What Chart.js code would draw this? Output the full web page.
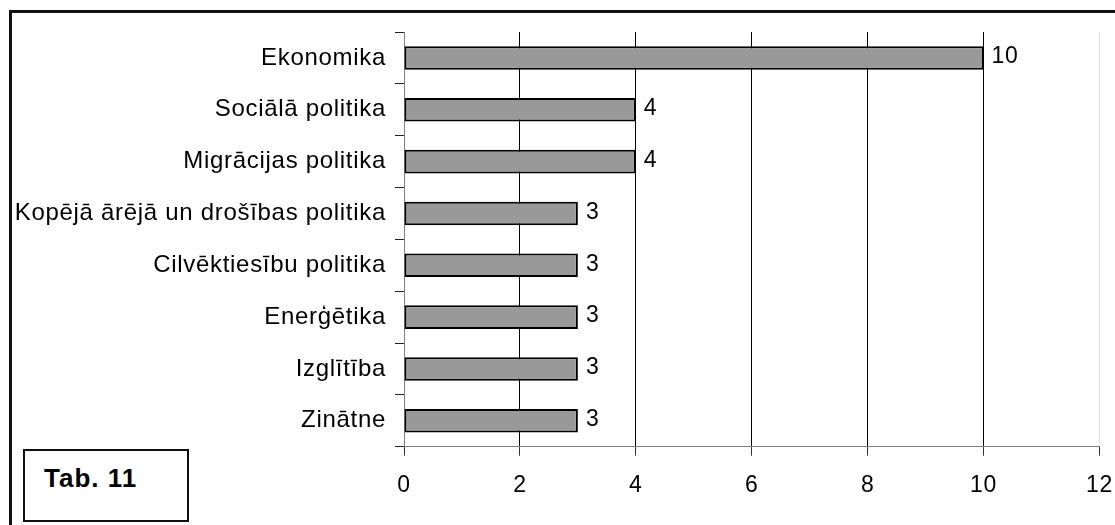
<!DOCTYPE html>
<html>
<head>
<meta charset="utf-8">
<script src="https://cdn.jsdelivr.net/npm/chart.js@4.4.0/dist/chart.umd.min.js"></script>
<style>
  html, body { margin: 0; padding: 0; background: #fff; }
  #wrap { position: relative; width: 1115px; height: 525px; overflow: hidden; }
  #frame {
    position: absolute; left: 9px; top: 10px; width: 1200px; height: 600px;
    border: 3px solid #111; box-sizing: border-box;
  }
  #chart { position: absolute; left: 0; top: 0; }
  #tab {
    position: absolute; left: 23px; top: 449px; width: 166px; height: 73px;
    border: 2px solid #111; box-sizing: border-box; background: #fff;
  }
  #tab span {
    position: absolute; left: 19px; top: 14px;
    font: bold 26px "Liberation Sans", Arial, sans-serif;
    line-height: 26px; letter-spacing: 1px; color: #000;
  }
</style>
</head>
<body>
<div id="wrap">
  <div id="frame"></div>
  <canvas id="chart" width="1115" height="525"></canvas>
  <div id="tab"><span>Tab. 11</span></div>
</div>
<script>
// Chart data
const categories = [
  "Ekonomika",
  "Sociālā politika",
  "Migrācijas politika",
  "Kopējā ārējā un drošības politika",
  "Cilvēktiesību politika",
  "Enerģētika",
  "Izglītība",
  "Zinātne",
];
const values = [10, 4, 4, 3, 3, 3, 3, 3];

// X axis range
const xMin = 0;
const xMax = 12;
const xStep = 2;

const FONT = '"Liberation Sans", Arial, sans-serif';

// Wide, GDI-like spacing for the axis text
const spacingPlugin = {
  id: "spacing",
  beforeDraw(chart) {
    chart.ctx.letterSpacing = "0.7px";
  },
};

// Numbers right of every bar
const valueLabels = {
  id: "valueLabels",
  afterDatasetsDraw(chart) {
    const ctx = chart.ctx;
    const meta = chart.getDatasetMeta(0);
    ctx.save();
    ctx.font = "23px " + FONT;
    ctx.fillStyle = "#000";
    ctx.textAlign = "left";
    ctx.textBaseline = "middle";
    meta.data.forEach((bar, i) => {
      ctx.fillText(String(values[i]), bar.x + 8, bar.y - 1);
    });
    ctx.restore();
  },
};

const ctx = document.getElementById("chart").getContext("2d");
new Chart(ctx, {
  type: "bar",
  data: {
    labels: categories,
    datasets: [
      {
        data: values,
        backgroundColor: "#999999",
        borderColor: "#000",
        borderWidth: 2,
        borderSkipped: false,
        barPercentage: 0.455,
        categoryPercentage: 1,
      },
    ],
  },
  options: {
    indexAxis: "y",
    responsive: false,
    animation: false,
    layout: {
      padding: { top: 32, left: 10, right: 0, bottom: 0 },
    },
    plugins: {
      legend: { display: false },
      tooltip: { enabled: false },
    },
    scales: {
      y: {
        afterFit(scale) {
          scale.width = 394;
        },
        grid: {
          offset: true,
          drawOnChartArea: false,
          tickLength: 9,
          color: "#222",
        },
        border: { color: "#808080", width: 1 },
        ticks: {
          color: "#000",
          padding: 9,
          font: { family: FONT, size: 24 },
        },
      },
      x: {
        min: xMin,
        max: xMax,
        afterFit(scale) {
          scale.height = 78.3;
          scale.paddingLeft = 0;
          scale.paddingRight = 15.5;
        },
        grid: {
          tickLength: 9,
          tickColor: "#333",
          color: (c) => {
            if (!c.tick) return "#000";
            if (c.tick.value === xMax) return "#e4e4e4";
            if (c.tick.value === xMin) return "#808080";
            return "#000";
          },
        },
        border: { color: "#808080", width: 1 },
        ticks: {
          stepSize: xStep,
          color: "#000",
          padding: 16,
          maxRotation: 0,
          font: { family: FONT, size: 23 },
        },
      },
    },
  },
  plugins: [spacingPlugin, valueLabels],
});
</script>
</body>
</html>
